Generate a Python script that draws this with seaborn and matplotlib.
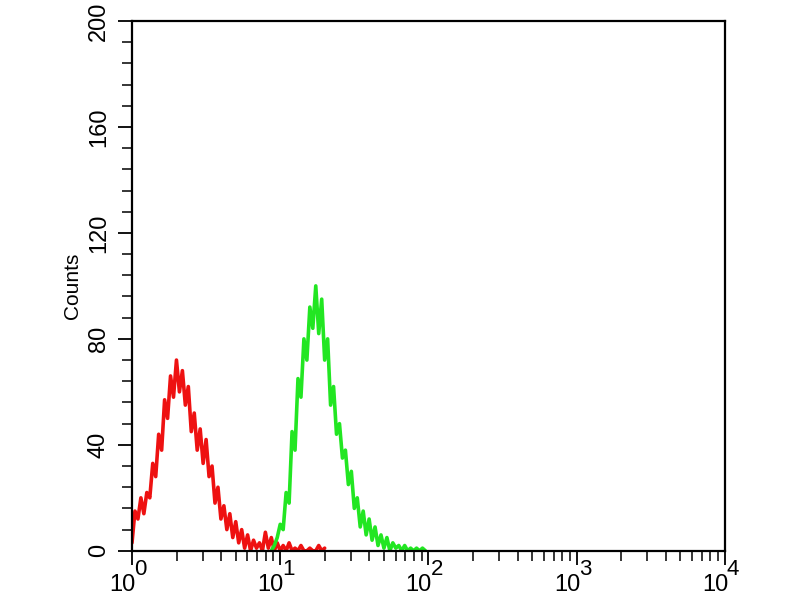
"""
Flow cytometry overlay histogram (log fluorescence vs counts).
"""
import matplotlib
matplotlib.use("Agg")

import matplotlib.pyplot as plt
import matplotlib.ticker as mticker
import pandas as pd
import seaborn as sns

# log10 fluorescence channel positions and counts
red_log = [0.00, 0.02, 0.04, 0.06, 0.08, 0.10, 0.12, 0.14, 0.16, 0.18,
           0.20, 0.22, 0.24, 0.26, 0.28, 0.30, 0.32, 0.34, 0.36, 0.38,
           0.40, 0.42, 0.44, 0.46, 0.48, 0.50, 0.52, 0.54, 0.56, 0.58,
           0.60, 0.62, 0.64, 0.66, 0.68, 0.70, 0.72, 0.74, 0.76, 0.78,
           0.80, 0.82, 0.84, 0.86, 0.88, 0.90, 0.92, 0.94, 0.96, 0.98,
           1.00, 1.02, 1.04, 1.06, 1.08, 1.10, 1.12, 1.14, 1.16, 1.18,
           1.20, 1.22, 1.24, 1.26, 1.28, 1.30]
red_counts = [3, 15, 12, 20, 14, 22, 20, 33, 28, 44,
              38, 57, 50, 66, 58, 72, 60, 68, 55, 62,
              45, 52, 38, 46, 33, 42, 28, 32, 18, 24,
              12, 17, 8, 14, 5, 11, 3, 8, 1, 6,
              0, 4, 1, 3, 0, 7, 1, 5, 0, 3,
              0, 2, 0, 3, 0, 1, 0, 2, 0, 0,
              1, 0, 0, 2, 0, 1]

green_log = [0.94, 0.96, 0.98, 1.00, 1.02, 1.04, 1.06, 1.08, 1.10, 1.12,
             1.14, 1.16, 1.18, 1.20, 1.22, 1.24, 1.26, 1.28, 1.30, 1.32,
             1.34, 1.36, 1.38, 1.40, 1.42, 1.44, 1.46, 1.48, 1.50, 1.52,
             1.54, 1.56, 1.58, 1.60, 1.62, 1.64, 1.66, 1.68, 1.70, 1.72,
             1.74, 1.76, 1.78, 1.80, 1.82, 1.84, 1.86, 1.88, 1.90, 1.92,
             1.94, 1.96, 1.98]
green_counts = [0, 2, 5, 10, 8, 22, 18, 45, 38, 65,
                58, 80, 72, 92, 84, 100, 82, 95, 72, 80,
                55, 62, 44, 48, 35, 38, 25, 30, 16, 20,
                9, 15, 6, 12, 4, 9, 2, 6, 1, 5,
                0, 3, 1, 2, 0, 2, 0, 1, 0, 1,
                0, 1, 0]

y_major = [0, 40, 80, 120, 160, 200]
x_decades = [0, 1, 2, 3, 4]

sns.set_theme(style="ticks")
plt.rcParams["font.family"] = ["Liberation Sans", "DejaVu Sans"]

red = pd.DataFrame({"fl": [10 ** v for v in red_log], "counts": red_counts})
green = pd.DataFrame({"fl": [10 ** v for v in green_log], "counts": green_counts})

fig = plt.figure(figsize=(8, 6), dpi=100)
ax = fig.add_axes([0.165, 0.082, 0.741, 0.883])

sns.lineplot(data=red, x="fl", y="counts", ax=ax, color="#ee1111",
             sort=False, estimator=None, lw=2.6)
sns.lineplot(data=green, x="fl", y="counts", ax=ax, color="#22e622",
             sort=False, estimator=None, lw=2.6)

ax.set_xscale("log")
ax.set_xlim(1, 1e4)
ax.set_ylim(0, 200)
ax.set_yticks(y_major)
ax.set_xticks([10 ** k for k in x_decades])
ax.xaxis.set_major_formatter(mticker.NullFormatter())
ax.yaxis.set_minor_locator(mticker.MultipleLocator(8))
ax.xaxis.set_minor_locator(mticker.LogLocator(base=10, subs=range(2, 10), numticks=20))
ax.xaxis.set_minor_formatter(mticker.NullFormatter())

ax.tick_params(axis="both", which="major", direction="out", length=10,
               width=1.3, color="black", labelsize=17, labelcolor="black")
ax.tick_params(axis="both", which="minor", direction="out", length=7,
               width=1.1, color="black")
ax.tick_params(axis="y", which="major", pad=6)
plt.setp(ax.get_yticklabels(), rotation=90, va="center")

# "10" with a large raised exponent, like the cytometer software draws it
tr = ax.get_xaxis_transform()
for k in x_decades:
    ax.annotate("10", xy=(10 ** k, 0), xycoords=tr, xytext=(2.5, -29),
                textcoords="offset points", ha="right", va="baseline",
                fontsize=17, color="black", annotation_clip=False)
    ax.annotate(str(k), xy=(10 ** k, 0), xycoords=tr, xytext=(1.5, -17.5),
                textcoords="offset points", ha="left", va="baseline",
                fontsize=16, color="black", annotation_clip=False)

for sp in ax.spines.values():
    sp.set_visible(True)
    sp.set_color("black")
    sp.set_linewidth(1.6)

ax.set_xlabel("")
ax.set_ylabel("Counts", fontsize=15, color="black", labelpad=4)
ax.grid(False)

fig.savefig("out.png", dpi=100)
plt.close(fig)
